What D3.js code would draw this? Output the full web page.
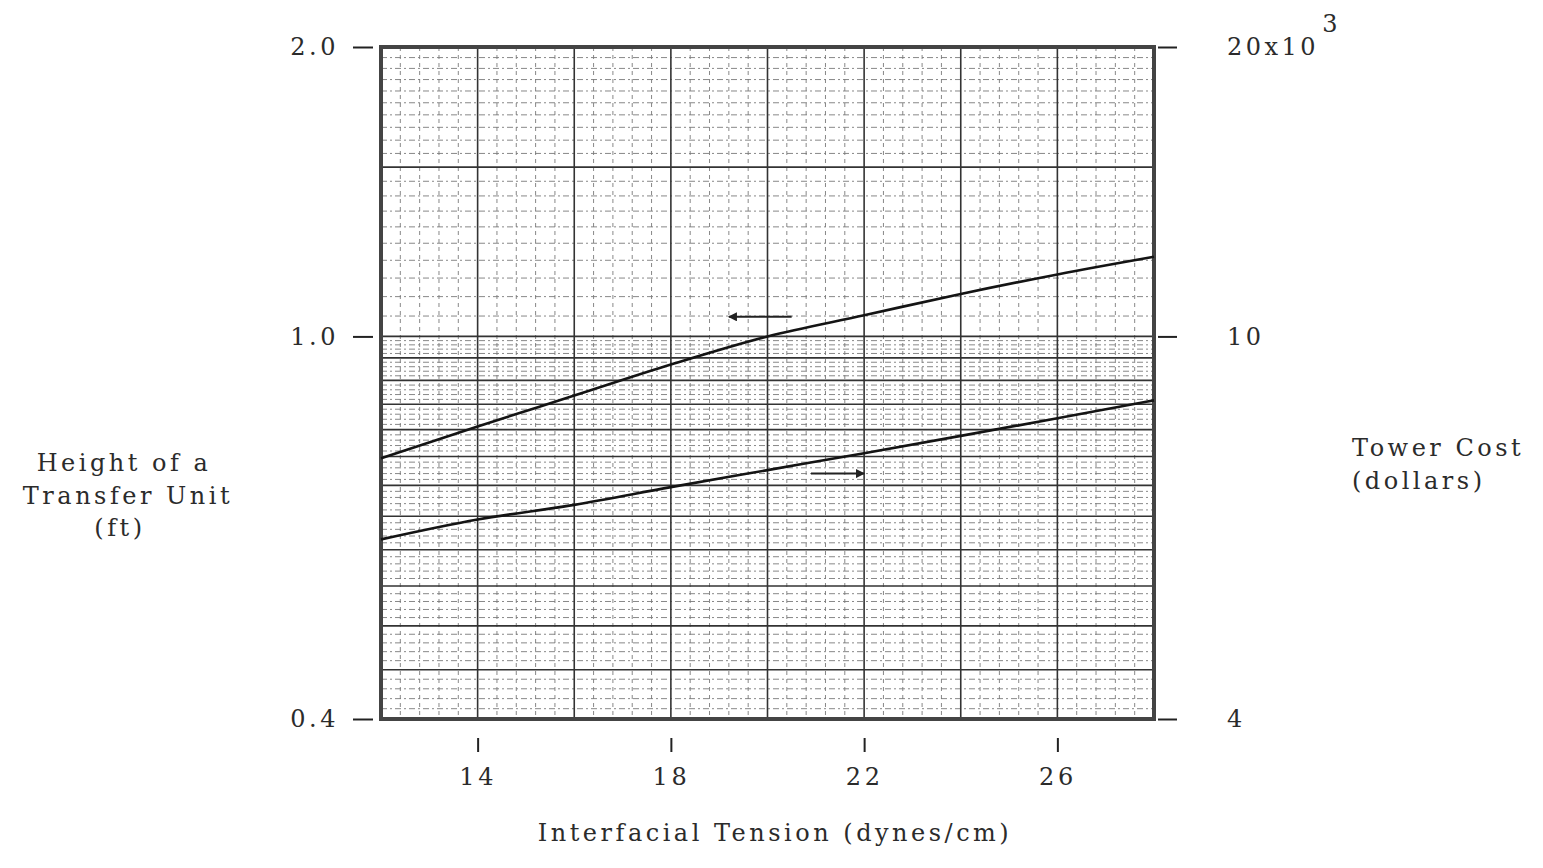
<!DOCTYPE html>
<html>
<head>
<meta charset="utf-8">
<script src="https://cdn.jsdelivr.net/npm/d3@7"></script>
<style>
	body { margin: 0; background: #fff; }
	text { font-family: "DejaVu Serif", serif; fill: #2b2b2b; }
	.domain { display: none; }
</style>
</head>
<body>
<svg id="chart" width="1543" height="868"></svg>
<script>
// values
var tension = [12, 14, 16, 18, 20, 22, 24, 26, 28];
var htu = [0.747, 0.806, 0.868, 0.935, 1.0, 1.052, 1.107, 1.16, 1.21];      // ft, left axis
var towerCost = [6.15, 6.45, 6.68, 6.97, 7.26, 7.56, 7.88, 8.22, 8.58];   // x10^3 dollars, right axis
var xTicks = [14, 18, 22, 26];
var leftTicks = [0.4, 1.0, 2.0];
var rightTicks = [4, 10, 20];
var rightLabels = ['4', '10', '20x10'];
// the two little arrows telling which axis each curve belongs to
var arrowFrom = [20.5, 20.9];
var arrowTo = [19.2, 22.0];
var arrowLevel = [1.048, 7.2];
var arrowAxis = ['left', 'right'];

var svg = d3.select('#chart');
var pLeft = 381, pRight = 1154, pTop = 47, pBottom = 719;

var x_conv = d3.scaleLinear().domain([12, 28]).range([pLeft, pRight]);
var yL = d3.scaleLog().domain([0.4, 2]).range([pBottom, pTop]);
var yR = d3.scaleLog().domain([4, 20]).range([pBottom, pTop]);

svg.append('defs').append('marker')
	.attr('id', 'head')
	.attr('viewBox', '0 0 10 10')
	.attr('refX', 9).attr('refY', 5)
	.attr('markerWidth', 6).attr('markerHeight', 4.5)
	.attr('markerUnits', 'strokeWidth')
	.attr('orient', 'auto')
	.append('path')
	.attr('d', 'M0,0L10,5L0,10Z')
	.attr('fill', '#222');

// graph paper
var paper = svg.append('g');
function near(v, step) { return Math.abs(v / step - Math.round(v / step)) < 1e-6; }

var minorH = d3.range(0.41, 0.995, 0.01).filter(function(v) { return !near(v, 0.05); })
	.concat(d3.range(1.05, 1.99, 0.05).filter(function(v) { return !near(v, 0.5); }));
var majorH = d3.range(0.45, 0.99, 0.05).concat([1.0, 1.5]);
var minorV = d3.range(12.4, 27.9, 0.4).filter(function(v) { return !near(v, 2); });
var majorV = d3.range(14, 27, 2);

paper.selectAll('line.minh').data(minorH).enter().append('line')
	.attr('x1', pLeft).attr('x2', pRight)
	.attr('y1', function(d) { return yL(d); }).attr('y2', function(d) { return yL(d); })
	.attr('stroke', '#7a7a7a').attr('stroke-width', 0.9)
	.attr('stroke-dasharray', '6,3,2,3');
paper.selectAll('line.minv').data(minorV).enter().append('line')
	.attr('y1', pTop).attr('y2', pBottom)
	.attr('x1', function(d) { return x_conv(d); }).attr('x2', function(d) { return x_conv(d); })
	.attr('stroke', '#7a7a7a').attr('stroke-width', 0.9)
	.attr('stroke-dasharray', '4,4');
paper.selectAll('line.majh').data(majorH).enter().append('line')
	.attr('x1', pLeft).attr('x2', pRight)
	.attr('y1', function(d) { return yL(d); }).attr('y2', function(d) { return yL(d); })
	.attr('stroke', '#333').attr('stroke-width', 1.6);
paper.selectAll('line.majv').data(majorV).enter().append('line')
	.attr('y1', pTop).attr('y2', pBottom)
	.attr('x1', function(d) { return x_conv(d); }).attr('x2', function(d) { return x_conv(d); })
	.attr('stroke', '#333').attr('stroke-width', 1.6);
paper.append('rect')
	.attr('x', pLeft).attr('y', pTop)
	.attr('width', pRight - pLeft).attr('height', pBottom - pTop)
	.attr('fill', 'none').attr('stroke', '#444').attr('stroke-width', 4);

// axes
var axL = svg.append('g')
	.attr('transform', 'translate(373,0)')
	.call(d3.axisLeft(yL).tickValues(leftTicks).tickSize(20).tickPadding(14)
		.tickFormat(d3.format('.1f')));
var axR = svg.append('g')
	.attr('transform', 'translate(1158,0)')
	.call(d3.axisRight(yR).tickValues(rightTicks).tickSize(19).tickPadding(50)
		.tickFormat(function(d, i) { return rightLabels[i]; }));
var axB = svg.append('g')
	.attr('transform', 'translate(0,738)')
	.call(d3.axisBottom(x_conv).tickValues(xTicks).tickSize(14).tickPadding(16));

[axL, axR, axB].forEach(function(ax) {
	ax.selectAll('line').attr('stroke', '#222').attr('stroke-width', 2);
	ax.selectAll('text')
		.style('font-family', '"DejaVu Serif", serif')
		.style('font-size', '24px')
		.style('letter-spacing', '3.5px')
		.attr('fill', '#2b2b2b');
});
axR.selectAll('text').filter(function(d) { return d === 20; })
	.append('tspan').attr('dy', '-0.95em').attr('dx', '3px').text('3');

// curves
var line = d3.line()
	.curve(d3.curveMonotoneX)
	.x(function(d) { return x_conv(d[0]); })
	.y(function(d) { return d[2](d[1]); });

svg.append('path')
	.datum(tension.map(function(t, i) { return [t, htu[i], yL]; }))
	.attr('d', line)
	.attr('fill', 'none').attr('stroke', '#141414').attr('stroke-width', 2.6);
svg.append('path')
	.datum(tension.map(function(t, i) { return [t, towerCost[i], yR]; }))
	.attr('d', line)
	.attr('fill', 'none').attr('stroke', '#141414').attr('stroke-width', 2.6);

arrowFrom.forEach(function(x0, i) {
	var sc = arrowAxis[i] == 'left' ? yL : yR;
	svg.append('line')
		.attr('x1', x_conv(x0)).attr('x2', x_conv(arrowTo[i]))
		.attr('y1', sc(arrowLevel[i])).attr('y2', sc(arrowLevel[i]))
		.attr('stroke', '#222').attr('stroke-width', 2)
		.attr('marker-end', 'url(#head)');
});

// titles
var lab = svg.append('g')
	.style('font-size', '24px')
	.style('letter-spacing', '3.5px');
lab.append('text').attr('x', 124).attr('y', 471).attr('text-anchor', 'middle').text('Height of a');
lab.append('text').attr('x', 128).attr('y', 504).attr('text-anchor', 'middle').text('Transfer Unit');
lab.append('text').attr('x', 120).attr('y', 536).attr('text-anchor', 'middle').text('(ft)');
lab.append('text').attr('x', 1352).attr('y', 456).text('Tower Cost');
lab.append('text').attr('x', 1352).attr('y', 489).text('(dollars)');
lab.append('text').attr('x', 775).attr('y', 841).attr('text-anchor', 'middle').text('Interfacial Tension (dynes/cm)');
</script>
</body>
</html>
